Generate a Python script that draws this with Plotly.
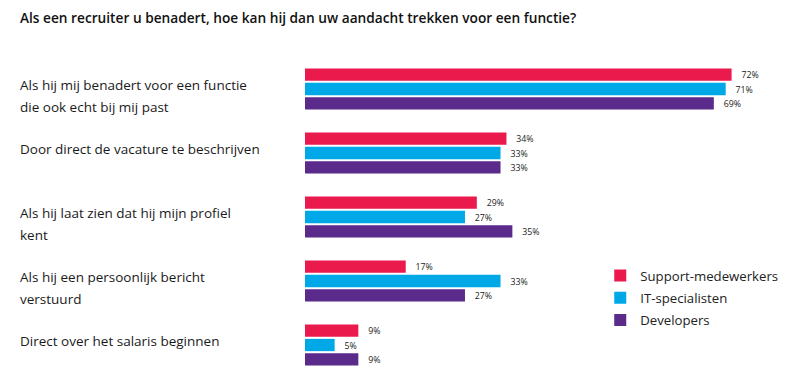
import plotly.graph_objects as go

title_text = "Als een recruiter u benadert, hoe kan hij dan uw aandacht trekken voor een functie?"
categories = [
    ["Als hij mij benadert voor een functie", "die ook echt bij mij past"],
    ["Door direct de vacature te beschrijven"],
    ["Als hij laat zien dat hij mijn profiel", "kent"],
    ["Als hij een persoonlijk bericht", "verstuurd"],
    ["Direct over het salaris beginnen"],
]
series_names = ["Support-medewerkers", "IT-specialisten", "Developers"]
support = [72, 34, 29, 17, 9]
it_spec = [71, 33, 27, 33, 5]
developers = [69, 33, 35, 27, 9]
colors = ["#EA1A4D", "#00A8E8", "#5B2B8C"]

cat_keys = [" ".join(c) for c in categories]
font = "Open Sans"

fig = go.Figure()
for name, vals, col in zip(series_names, [support, it_spec, developers], colors):
    fig.add_trace(go.Bar(
        y=cat_keys, x=vals, name=name, orientation="h", legendgroup=name,
        marker=dict(color=col, line=dict(width=0)),
        text=[f"\u00a0\u00a0\u00a0{v}%" for v in vals],
        textposition="outside", cliponaxis=False,
        textfont=dict(size=10, color="#222222", family=font),
    ))

plot_w = 473.6
annotations = []
annotations.append(dict(text=title_text, xref="paper", yref="paper",
                        x=(18 - 305) / plot_w, y=(390 - 17 - 13) / 320, xanchor="left", yanchor="middle",
                        showarrow=False, font=dict(size=13.7, color="#111111", family=font, weight=600)))
for key, lines in zip(cat_keys, categories):
    if len(lines) == 1:
        shifts = [4]
    else:
        shifts = [4, -18]
    for line, s in zip(lines, shifts):
        annotations.append(dict(text=line, xref="paper", yref="y", x=(18 - 305) / plot_w, y=key,
                                xanchor="left", yanchor="middle", yshift=s, showarrow=False,
                                font=dict(size=13.5, color="#1a1a1a", family=font)))

fig.update_layout(
    width=801, height=390,
    margin=dict(l=305, r=22.4, t=57, b=13),
    paper_bgcolor="white", plot_bgcolor="white",
    barmode="group", bargap=0.33, bargroupgap=0.14,
    showlegend=True,
    legend=dict(x=(600 - 305) / plot_w, y=0.364, xanchor="left", yanchor="top",
                font=dict(size=13.2, color="#222222", family=font),
                itemwidth=30, tracegroupgap=2, bgcolor="rgba(0,0,0,0)"),
    xaxis=dict(range=[0, 80], visible=False, fixedrange=True),
    yaxis=dict(autorange="reversed", visible=False, categoryorder="array", categoryarray=cat_keys),
    annotations=annotations,
)
fig.write_html("out.html", config={"displayModeBar": False},
               post_script="document.body.style.margin='0';document.body.style.overflow='hidden';")
